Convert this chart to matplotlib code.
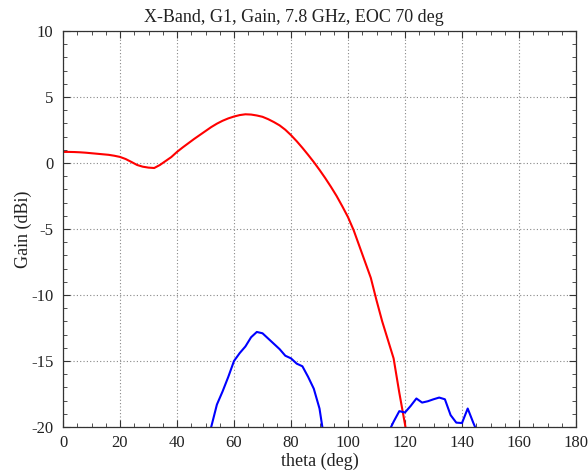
import numpy as np
import matplotlib
matplotlib.use("Agg")
import matplotlib.pyplot as plt
from matplotlib.ticker import MultipleLocator

# Data (theta in deg, gain in dBi)
theta_red = [0, 2, 4, 6, 8, 10, 12, 14, 16, 18, 20, 22, 24, 26, 28, 30, 32, 34, 36, 38,
             40, 42, 44, 46, 48, 50, 52, 54, 56, 58, 60, 62, 64, 66, 68, 70, 72, 74, 76, 78,
             80, 82, 84, 86, 88, 90, 92, 94, 96, 98, 100, 102, 104, 106, 108, 110, 112, 114,
             116, 118, 120, 122, 124]
gain_red = [0.84, 0.84, 0.83, 0.81, 0.78, 0.74, 0.70, 0.66, 0.62, 0.55, 0.46, 0.30, 0.08,
            -0.15, -0.28, -0.35, -0.38, -0.15, 0.15, 0.45, 0.84, 1.18, 1.50, 1.82, 2.12,
            2.42, 2.72, 2.98, 3.20, 3.38, 3.52, 3.63, 3.69, 3.67, 3.60, 3.50, 3.32, 3.10,
            2.85, 2.52, 2.11, 1.65, 1.15, 0.62, 0.07, -0.52, -1.14, -1.80, -2.50, -3.28,
            -4.10, -5.10, -6.30, -7.50, -8.70, -10.40, -12.00, -13.40, -14.80, -17.40,
            -19.80, -22.50, -25.0]

theta_blue = [48, 50, 52, 54, 56, 58, 60, 62, 64, 66, 68, 70, 72, 74, 76, 78, 80, 82, 84,
              86, 88, 90, 92, 94, 112, 114, 116, 118, 120, 122, 124, 126, 128, 130, 132,
              134, 136, 138, 140, 142, 144, 146, 148]
gain_blue = [-24.0, -22.0, -20.0, -18.3, -17.3, -16.2, -15.0, -14.4, -13.9, -13.2, -12.8,
             -12.9, -13.3, -13.7, -14.1, -14.6, -14.8, -15.2, -15.4, -16.2, -17.1, -18.6,
             -21.4, -24.0, -23.0, -20.5, -19.6, -18.8, -18.9, -18.4, -17.84, -18.15, -18.05,
             -17.9, -17.77, -17.9, -19.1, -19.67, -19.7, -18.6, -19.7, -20.7, -23.0]

title = "X-Band, G1, Gain, 7.8 GHz, EOC 70 deg"

plt.rcParams['font.family'] = ['Liberation Serif', 'DejaVu Serif']
plt.rcParams['axes.unicode_minus'] = False

fig = plt.figure(figsize=(5.88, 4.75), dpi=100)
ax = fig.add_axes([63/588, 1 - 427/475, (576-63)/588, (427-31)/475])

ax.plot(theta_red, gain_red, color='#ff0000', lw=1.5, clip_on=True)
ax.plot(theta_blue, gain_blue, color='#0000ff', lw=1.5, clip_on=True)

ax.set_xlim(0, 180)
ax.set_ylim(-20, 10)
ax.xaxis.set_major_locator(MultipleLocator(20))
ax.xaxis.set_minor_locator(MultipleLocator(5))
ax.yaxis.set_major_locator(MultipleLocator(5))
ax.yaxis.set_minor_locator(MultipleLocator(1))
ax.tick_params(which='both', direction='in', top=True, right=True, colors='#333333',
               labelcolor='#222222', labelsize=12)
ax.tick_params(which='major', length=5, width=0.8)
ax.tick_params(which='minor', length=3, width=0.6)
ax.tick_params(axis='y', which='major', pad=7)
ax.tick_params(axis='x', which='major', pad=6)
ax.grid(True, which='major', linestyle=(0, (1, 2)), color='#888888', linewidth=0.8)
for s in ax.spines.values():
    s.set_color('#333333')
    s.set_linewidth(0.9)

fig.text(0.5, 1 - 18/475, title, fontsize=13, color='#222222', ha='center', va='center')
ax.set_xlabel("theta (deg)", fontsize=13, color='#222222', labelpad=1)
ax.set_ylabel("Gain (dBi)", fontsize=13, color='#222222', labelpad=-1)

fig.savefig("out.png", dpi=100)
